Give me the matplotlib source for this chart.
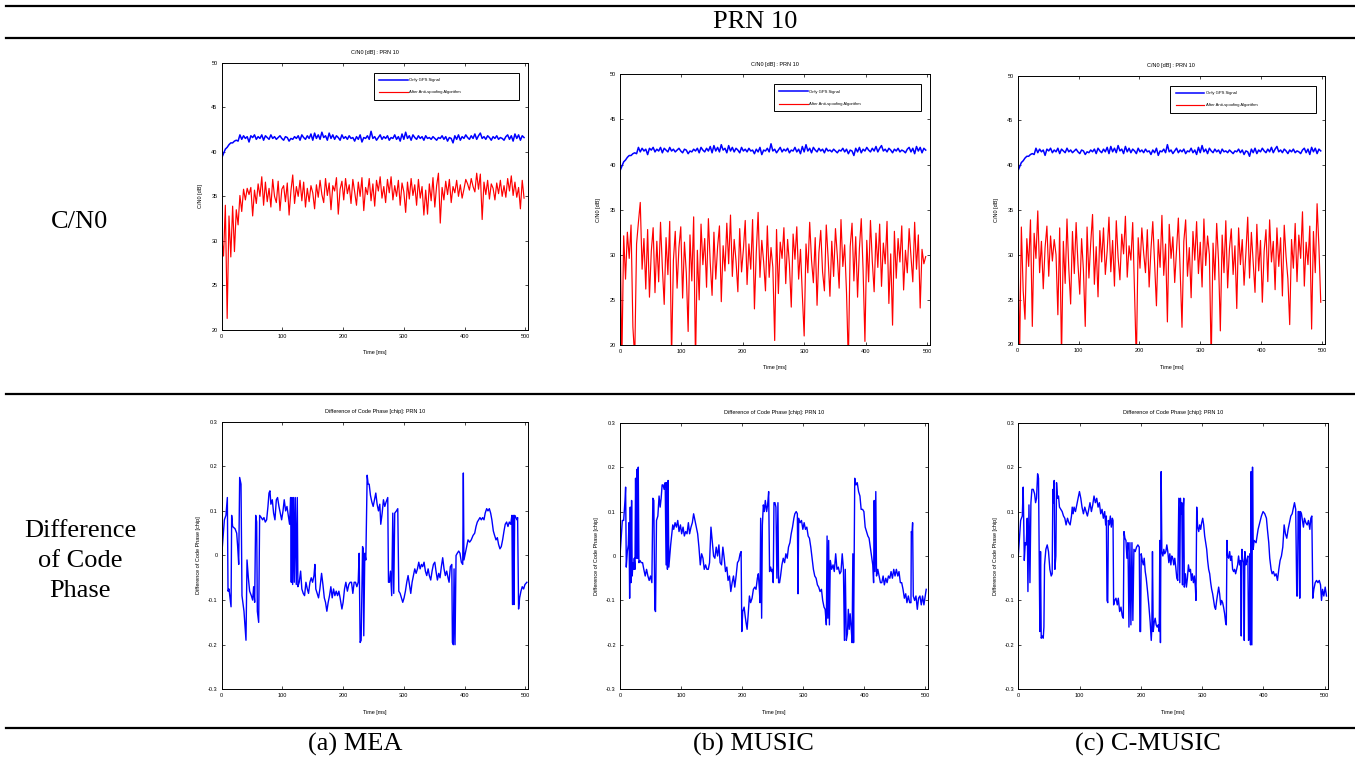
import numpy as np
import matplotlib
matplotlib.use("Agg")
import matplotlib.pyplot as plt
from matplotlib.lines import Line2D

plt.rcParams['axes.unicode_minus'] = False

# ---- data ----
methods = ["(a) MEA", "(b) MUSIC", "(c) C-MUSIC"]
row_labels = ["C/N0", "Difference\nof Code\nPhase"]
header = "PRN 10"
legend_labels = ["Only GPS Signal", "After Anti-spoofing Algorithm"]

time_step = 3  # ms between C/N0 samples

cn0_gps = [
    39.3, 39.8, 40.3, 40.5, 40.8, 41.0, 41.0, 41.2, 41.3, 41.2,
    41.9, 41.4, 41.8, 41.5, 41.7, 41.1, 41.8, 41.6, 41.9, 41.4,
    41.7, 41.5, 41.9, 41.3, 41.8, 41.6, 41.4, 41.9, 41.5, 41.7,
    41.4, 41.6, 41.8, 41.5, 41.3, 41.7, 41.6, 41.2, 41.5, 41.4,
    41.7, 41.5, 41.8, 41.3, 41.9, 41.6, 41.4, 41.8, 41.5, 42.0,
    41.3, 42.1, 41.5, 41.9, 41.4, 42.2, 41.6, 41.8, 41.3, 42.1,
    41.5, 41.9, 41.4, 41.8, 41.6, 41.3, 41.9, 41.5, 41.7, 41.4,
    41.8, 41.5, 41.6, 41.2, 41.7, 41.4, 41.9, 41.1, 41.6, 41.5,
    41.8, 41.4, 42.3, 41.5, 41.7, 41.3, 41.6, 41.9, 41.4, 41.7,
    41.5, 41.8, 41.3, 41.6, 41.5, 41.9, 41.4, 41.7, 41.2, 42.0,
    41.4, 42.2, 41.5, 41.8, 41.3, 41.9, 41.6, 41.4, 41.8, 41.5,
    41.7, 41.3, 41.8, 41.5, 41.6, 41.4, 41.7, 41.5, 41.3, 41.6,
    41.5, 41.8, 41.4, 41.7, 41.2, 41.6, 41.5, 41.0, 41.8, 41.4,
    41.9, 41.3, 41.7, 41.5, 41.9, 41.6, 41.4, 41.8, 41.5, 42.0,
    41.4, 41.8, 42.1, 41.5, 41.7, 41.4, 41.8, 41.6, 41.3, 41.7,
    41.5, 41.8, 41.4, 41.6, 41.5, 41.3, 41.7, 41.9, 41.4, 41.8,
    41.2, 42.0, 41.5, 41.9, 41.3, 41.8, 41.6,
]

cn0_mea = [
    30.5, 28.3, 34.0, 21.3, 32.8, 28.2, 33.9, 28.8, 33.5, 31.8,
    35.1, 33.3, 35.8, 34.6, 35.9, 35.2, 36.0, 32.8, 35.7, 34.2,
    36.4, 35.0, 37.2, 34.0, 36.6, 34.4, 35.9, 33.8, 36.9, 35.0,
    34.3, 36.7, 33.4, 35.8, 36.2, 34.4, 36.5, 32.9, 35.6, 37.4,
    34.2, 36.1, 35.0, 36.8, 34.5, 36.6, 33.8, 35.9, 34.4, 36.2,
    35.4, 33.6, 36.3, 34.9, 36.8, 35.2, 34.3, 37.0, 35.1, 36.5,
    33.5, 36.2, 35.6, 37.1, 33.0, 35.8, 36.7, 34.6, 37.0, 35.3,
    36.3, 34.2, 36.9, 35.5, 34.0, 36.6, 35.0, 37.1, 33.4, 36.0,
    35.2, 37.0, 34.5, 36.4, 33.9, 36.8, 35.6, 37.2, 34.8, 36.1,
    34.3, 36.9, 35.4, 37.2, 34.6, 36.2, 35.0, 36.8, 34.0, 36.5,
    35.5, 33.2, 36.6, 34.7, 37.0, 35.1, 36.3, 34.0, 36.9, 34.8,
    36.1, 32.9, 35.7, 33.0, 36.4, 34.5, 37.1, 33.8, 36.2, 37.6,
    32.0, 36.0, 34.6, 36.7, 35.2, 36.9, 34.3, 36.1, 35.4, 36.8,
    35.0, 36.3, 34.8, 35.8, 36.9, 36.4, 35.7, 37.0, 36.1, 35.5,
    37.6, 35.8, 37.5, 32.4, 36.6, 35.2, 36.8, 34.7, 36.4, 35.9,
    34.6, 36.5, 35.3, 36.8, 35.0, 36.2, 34.9, 37.0, 35.6, 37.3,
    35.1, 36.6, 34.9, 36.0, 33.6, 36.8, 34.8,
]

cn0_music = [
    33.7, 18.0, 32.1, 27.3, 32.5, 29.6, 33.3, 22.0, 18.5, 31.2,
    33.6, 35.8, 28.4, 31.8, 26.2, 32.8, 25.3, 30.4, 33.0, 25.8,
    31.5, 27.0, 33.6, 28.6, 24.5, 31.9, 27.8, 33.7, 18.5, 29.4,
    32.6, 26.3, 30.8, 33.1, 25.2, 31.4, 28.0, 21.5, 32.2, 27.1,
    34.2, 18.0, 30.5, 25.0, 33.4, 28.9, 31.8, 26.4, 34.0, 29.1,
    25.5, 32.5, 27.3, 30.9, 33.2, 24.8, 31.0, 28.2, 33.5, 29.0,
    34.4, 27.6, 31.7, 29.3, 25.9, 32.9, 28.1, 30.6, 33.8, 26.7,
    31.2, 28.4, 33.9, 24.0, 30.3, 34.7, 27.5, 31.6, 29.2, 26.0,
    33.2, 27.5, 30.8, 28.6, 20.5, 32.8, 25.7, 31.4, 29.6, 33.0,
    26.8, 31.7, 28.9, 24.2, 32.3, 29.5, 33.1, 27.3, 30.6, 25.6,
    21.0, 31.2, 28.0, 33.6, 29.4, 26.9, 31.9, 24.4, 30.2, 32.7,
    28.1, 26.0, 33.3, 29.7, 25.4, 31.5, 27.6, 32.9, 29.9, 26.3,
    33.9, 28.7, 31.1, 25.8, 18.0, 30.9, 33.5, 27.1, 32.0, 25.3,
    30.7, 34.0, 28.3, 20.4, 31.6, 27.0, 33.8, 29.3, 25.9, 32.4,
    28.6, 33.4, 26.5, 31.3, 29.0, 33.7, 24.6, 30.1, 22.2, 32.6,
    27.4, 31.8, 29.2, 33.2, 26.1, 30.5, 28.0, 32.9, 29.8, 27.0,
    33.6, 28.4, 32.2, 24.1, 30.6, 29.0, 29.8,
]

cn0_cmusic = [
    33.9, 18.0, 33.1, 26.0, 22.8, 31.8, 28.7, 33.9, 22.0, 32.4,
    29.6, 34.9, 28.0, 31.5, 26.2, 30.8, 33.2, 27.6, 32.1, 29.3,
    31.7, 30.0, 23.3, 33.0, 18.5, 31.5, 26.8, 34.0, 28.4, 24.5,
    32.6, 27.9, 33.6, 29.0, 25.6, 31.8, 28.3, 22.0, 33.1, 27.4,
    31.3, 34.5, 26.7, 30.9, 25.3, 32.7, 29.2, 33.0, 27.8, 30.4,
    34.2, 28.1, 31.6, 26.5, 33.8, 29.7, 27.2, 32.3, 30.1, 34.3,
    27.5, 31.0, 29.4, 33.6, 26.0, 18.0, 31.9, 28.5, 33.0, 30.2,
    28.0, 32.8, 26.4, 30.6, 33.7, 29.1, 24.3, 31.7, 28.6, 34.4,
    27.7, 31.2, 22.5, 33.4, 29.6, 32.0, 26.9, 30.5, 34.1, 28.2,
    21.9, 31.5, 33.9, 27.6, 30.8, 25.2, 32.6, 29.4, 33.7, 27.9,
    31.4, 26.4, 34.0, 28.8, 32.1, 30.0, 18.0, 31.3, 27.2, 33.5,
    29.4, 21.5, 32.2, 28.0, 33.8, 26.3, 30.7, 32.9, 27.8, 31.0,
    24.0, 33.0, 28.9, 31.7, 26.6, 30.2, 34.2, 27.4, 32.5, 29.1,
    25.8, 33.4, 28.2, 31.6, 24.7, 30.4, 32.8, 27.0, 33.9, 29.2,
    31.5, 26.1, 33.0, 28.7, 31.9, 25.4, 33.3, 29.8, 27.3, 22.2,
    31.7, 28.5, 33.5, 27.0, 32.2, 29.6, 34.8, 26.5, 31.4, 28.9,
    33.2, 21.7, 32.6, 28.0, 35.7, 30.9, 24.7,
]

# (time [ms], code phase difference [chip])
cp_mea = [
    (0, 0.0), (4.4, 0.08), (7, 0.09), (9.3, 0.13), (10.4, -0.08), (12, -0.075),
    (13.7, -0.095), (15.4, -0.115), (16.4, 0.09), (18, 0.065), (22, 0.06),
    (24.7, 0.05), (26.3, 0.02), (28, -0.02), (29.6, 0.175), (31.8, 0.16),
    (33.4, -0.09), (36.7, -0.125), (40, -0.19), (41.7, -0.01), (43.9, -0.05),
    (46, -0.08), (48.8, -0.09), (51, -0.1), (52.6, -0.07), (54.3, -0.105),
    (56, 0.09), (57.6, 0.075), (58.7, -0.125), (60.9, -0.15), (62.5, 0.09),
    (65.2, 0.085), (67.4, 0.08), (69.6, 0.085), (71.8, 0.075), (74, 0.08),
    (76.2, 0.11), (77.9, 0.14), (79.5, 0.145), (81, 0.115), (83.3, 0.125),
    (85.5, 0.095), (87.7, 0.08), (90, 0.125), (92, 0.13), (94.3, 0.11),
    (96.5, 0.095), (98.7, 0.08), (101, 0.1), (103, 0.125), (105.3, 0.1),
    (107.5, 0.11), (109.6, 0.09), (111.8, 0.07), (113.5, 0.13), (114.6, -0.06),
    (115.7, 0.13), (116.8, -0.065), (118.4, 0.13), (119.5, -0.06), (121.2, 0.13),
    (122.8, -0.065), (124.5, 0.13), (125.5, -0.07), (127.7, -0.06), (130, -0.035),
    (132, -0.075), (134.3, -0.085), (136.5, -0.09), (138.7, -0.06), (141, -0.075),
    (143, -0.085), (145.3, -0.06), (147.5, -0.05), (149.7, -0.06), (152, -0.045),
    (153.5, -0.02), (155, -0.075), (157.3, -0.085), (159.5, -0.095), (161.7, -0.075),
    (164.5, -0.04), (166.7, -0.065), (169, -0.095), (171, -0.105), (173.2, -0.125),
    (175.4, -0.105), (177.6, -0.09), (179.8, -0.07), (182, -0.095), (184.2, -0.075),
    (186.4, -0.09), (188.6, -0.08), (190.8, -0.09), (193, -0.08), (195, -0.095),
    (198, -0.12), (200, -0.105), (202.3, -0.075), (204.5, -0.06), (207, -0.08),
    (209.4, -0.065), (211.6, -0.06), (213.8, -0.06), (216, -0.085), (218.2, -0.06),
    (220.4, -0.06), (222.6, -0.07), (224.8, -0.06), (226.4, 0.005), (228, -0.195),
    (229.7, -0.19), (232, 0.02), (233, 0.015), (234, -0.18), (235.7, 0.005),
    (237.4, -0.01), (239.6, 0.18), (241.2, 0.16), (242.9, 0.16), (245, 0.135),
    (247.3, 0.12), (249.5, 0.11), (251.6, 0.125), (253.8, 0.14), (256, 0.115),
    (258.2, 0.1), (260.4, 0.115), (262, 0.07), (264.3, 0.095), (266.4, 0.125),
    (268.6, 0.11), (270.8, 0.12), (273.5, 0.13), (274.7, -0.06), (276.3, -0.06),
    (278, -0.035), (280, -0.09), (281.8, 0.095), (283.4, -0.085), (285, 0.095),
    (287.8, 0.1), (290, 0.105), (291.7, -0.08), (293.9, -0.085), (296, -0.095),
    (298.2, -0.105), (300.4, -0.095), (302.6, -0.08), (304.8, -0.06), (307, -0.045),
    (309.2, -0.065), (311.4, -0.085), (313.6, -0.06), (315.8, -0.045), (318, -0.03),
    (320.2, -0.04), (322.4, -0.03), (324.6, -0.015), (326.8, -0.03), (329, -0.02),
    (331, -0.025), (333.3, -0.015), (335.5, -0.035), (337.7, -0.045), (340, -0.03),
    (342, -0.045), (344.3, -0.055), (346.5, -0.035), (348.7, -0.02), (351, -0.015),
    (353, -0.035), (355.3, -0.055), (357.5, -0.04), (359.6, -0.05), (361.8, -0.025),
    (364, -0.005), (366.2, -0.03), (368.4, -0.045), (370.6, -0.035), (372.8, -0.05),
    (374.5, -0.06), (376.6, -0.025), (379, -0.02), (380, -0.195), (381.6, -0.2),
    (382.7, -0.03), (384.3, -0.2), (386, 0.0), (388, 0.005), (390.4, 0.01),
    (392.5, 0.005), (394.7, -0.015), (397, -0.02), (398, 0.185), (399, -0.01),
    (401.3, 0.005), (403.5, 0.02), (405.7, 0.035), (408.4, 0.03), (411, 0.035),
    (414, 0.045), (416.7, 0.05), (418.9, 0.065), (421, 0.075), (423.2, 0.08),
    (425.4, 0.085), (427.6, 0.08), (429.8, 0.085), (432, 0.08), (434, 0.095),
    (436.4, 0.105), (438.6, 0.1), (440.8, 0.105), (443, 0.095), (445, 0.08),
    (447.4, 0.055), (449.5, 0.045), (451.8, 0.035), (454, 0.04), (456, 0.025),
    (458.3, 0.015), (460.5, 0.02), (462.7, 0.035), (465, 0.055), (467, 0.07),
    (469.3, 0.075), (471.5, 0.065), (473.7, 0.075), (476, 0.07), (478, 0.09),
    (479, -0.11), (480.3, 0.09), (481.4, -0.11), (482.5, 0.09), (484.6, 0.085),
    (486.3, 0.08), (487.4, 0.085), (489, -0.12), (490.7, -0.095), (492.9, -0.08),
    (495, -0.07), (497.3, -0.075), (499.5, -0.065), (502.7, -0.06),
]

cp_music = [
    (0, 0.0), (3.8, 0.08), (6, 0.08), (8.2, 0.125), (9.2, 0.155), (10.3, -0.025),
    (12, 0.01), (13.6, 0.025), (14.7, 0.075), (15.8, -0.095), (16.8, 0.11),
    (18, -0.06), (19, 0.125), (20, -0.045), (21.2, -0.015), (22.3, -0.03),
    (23.4, -0.005), (24.5, -0.03), (25.5, 0.175), (26.6, -0.005), (27.7, 0.195),
    (28.8, -0.005), (29.9, 0.2), (31, -0.015), (32.6, -0.01), (34.8, -0.015),
    (37, -0.015), (39, -0.03), (41.3, -0.045), (43.5, -0.03), (45.7, -0.045),
    (47.8, -0.055), (50, -0.045), (52.2, -0.06), (53.8, 0.13), (55.4, 0.125),
    (57, -0.12), (58.2, -0.125), (59.8, 0.08), (62, 0.09), (64, 0.135),
    (65.8, 0.11), (67.4, 0.13), (69, 0.16), (70.6, 0.16), (72.3, 0.15),
    (74, 0.165), (75.5, -0.02), (76.6, 0.165), (77.7, -0.03), (78.8, 0.17),
    (80, -0.025), (81.5, 0.0), (83, 0.025), (84.8, 0.05), (86.4, 0.07),
    (88, 0.06), (90.2, 0.075), (92.4, 0.065), (94.6, 0.08), (96.7, 0.055),
    (99, 0.07), (101, 0.05), (103.3, 0.065), (105.4, 0.045), (107.6, 0.055),
    (109.8, 0.05), (112, 0.075), (114, 0.05), (116.3, 0.065), (118.5, 0.075),
    (120.6, 0.095), (122.8, 0.08), (125, 0.065), (127.2, 0.05), (129.3, 0.02),
    (131.5, -0.02), (133.7, 0.005), (135.9, -0.005), (138, -0.03), (140.2, -0.02),
    (142.4, -0.03), (144.6, -0.03), (146.7, -0.015), (149, 0.065), (151, 0.035),
    (153.3, 0.0), (155.4, -0.005), (157.6, 0.02), (159.8, 0.0), (162, 0.025),
    (164, -0.015), (166.3, -0.02), (168.5, 0.02), (170.7, -0.005), (172.8, -0.035),
    (175, -0.025), (177, -0.055), (179.3, -0.045), (181.5, -0.08), (183.7, -0.06),
    (185.9, -0.045), (188, -0.07), (190.2, -0.045), (192.4, -0.015), (194.6, -0.01),
    (196.7, 0.005), (198.4, 0.01), (199.5, -0.17), (201, -0.125), (203.3, -0.115),
    (205, -0.135), (206.5, -0.15), (208.2, -0.165), (209.8, -0.135), (212, -0.09),
    (214, -0.105), (216.3, -0.095), (218.5, -0.075), (220.7, -0.07), (222.8, -0.075),
    (225, -0.05), (226.6, -0.04), (228.3, -0.075), (229.3, -0.105), (230.4, 0.085),
    (232, -0.14), (233.2, 0.07), (234.8, 0.115), (236.4, 0.1), (238, 0.125),
    (240.2, 0.1), (241.8, 0.115), (243.5, 0.145), (245, -0.035), (246.7, -0.025),
    (248.4, -0.035), (249.5, -0.03), (251, -0.06), (252.2, 0.12), (253.8, 0.12),
    (255.4, 0.11), (257, -0.05), (258.7, 0.12), (259.8, -0.06), (261.4, -0.06),
    (263, -0.045), (265.2, -0.02), (267.4, -0.005), (269.6, -0.015), (271.7, 0.005),
    (273.9, -0.005), (276, 0.02), (278.3, 0.03), (280.4, 0.05), (282.6, 0.065),
    (284.8, 0.085), (286.4, 0.095), (288.6, 0.1), (290.5, 0.095), (291.6, -0.085),
    (292.7, 0.085), (295, 0.075), (297.3, 0.08), (299.5, 0.06), (301.6, 0.075),
    (303.8, 0.06), (306, 0.065), (308.2, 0.045), (310.3, 0.04), (312.5, 0.02),
    (314.7, -0.005), (316.8, -0.03), (319, -0.045), (321.2, -0.05), (323.4, -0.065),
    (325.5, -0.07), (327.7, -0.08), (330, -0.075), (332, -0.1), (334.2, -0.115),
    (336, -0.12), (338, -0.155), (339.2, 0.045), (340.5, -0.14), (341.8, 0.035),
    (343, -0.155), (344.5, -0.01), (346.7, -0.03), (349, -0.02), (351, -0.035),
    (353.3, 0.005), (355.4, -0.03), (357.6, -0.025), (360, -0.04), (362, -0.035),
    (364, 0.005), (366, -0.03), (367.6, -0.19), (369, -0.03), (370.7, -0.19),
    (372.5, -0.175), (374, -0.12), (375.5, -0.165), (377, -0.13), (378.6, -0.16),
    (380.2, -0.195), (381.4, 0.005), (382.6, -0.195), (384.5, 0.175), (386.5, 0.16),
    (388.6, 0.165), (390.8, 0.145), (393, 0.135), (395, 0.105), (397.3, 0.105),
    (399.5, 0.1), (401.6, 0.065), (403.8, 0.055), (406, 0.045), (408, 0.04),
    (410, 0.02), (412, 0.0), (414, -0.02), (415.4, -0.06), (416.4, 0.125),
    (417.6, -0.035), (419, 0.145), (420.2, -0.045), (422.3, -0.03), (424.5, -0.045),
    (426.6, -0.06), (428.8, -0.06), (431, -0.045), (433, -0.065), (435.3, -0.05),
    (437.5, -0.06), (439.7, -0.045), (442, -0.05), (444, -0.035), (446.2, -0.05),
    (448.4, -0.03), (450.5, -0.045), (452.7, -0.03), (455, -0.045), (457, -0.035),
    (459.2, -0.06), (461.4, -0.06), (463.6, -0.075), (465.8, -0.095), (468, -0.085),
    (470, -0.105), (472.3, -0.09), (474.5, -0.105), (476.6, -0.105), (477.2, 0.055),
    (478.3, 0.05), (479.3, 0.075), (480.4, -0.09), (482.6, -0.1), (484.8, -0.09),
    (487, -0.12), (489, -0.095), (491.3, -0.09), (493.5, -0.11), (495.6, -0.09),
    (497.8, -0.11), (500, -0.09), (501.6, -0.075),
]

cp_cmusic = [
    (0, 0.0), (3.8, 0.08), (6.5, 0.09), (8, 0.155), (9.8, -0.01), (11.4, 0.03),
    (13, 0.025), (14.6, 0.085), (15.7, -0.08), (17.4, 0.115), (19, -0.06),
    (20.6, 0.12), (22.2, 0.15), (24.4, 0.15), (26.6, 0.14), (28.2, 0.12),
    (29.8, 0.13), (31.5, 0.185), (33, 0.175), (34.2, -0.005), (35.2, -0.17),
    (36.3, 0.01), (37.4, -0.185), (39, -0.18), (40.7, -0.185), (41.8, -0.16),
    (42.8, -0.02), (45, 0.015), (47.2, 0.025), (49.3, 0.01), (51.5, -0.03),
    (53.7, -0.045), (55.3, -0.04), (56.4, 0.15), (57.5, 0.12), (58.6, 0.17),
    (59.7, -0.03), (61.3, 0.0), (62.4, 0.165), (64, 0.13), (65.6, 0.135),
    (67.2, 0.11), (69.4, 0.105), (71.6, 0.1), (73.8, 0.09), (75.9, 0.085),
    (78, 0.07), (80.3, 0.085), (82.5, 0.075), (84.6, 0.07), (86.8, 0.09),
    (88, 0.11), (89.5, 0.095), (91, 0.11), (93.3, 0.1), (95.4, 0.115),
    (97.6, 0.13), (99.8, 0.145), (102, 0.13), (104, 0.11), (106.3, 0.095),
    (108.5, 0.11), (110.6, 0.1), (112.8, 0.09), (115, 0.105), (117, 0.12),
    (119.3, 0.1), (121.5, 0.115), (123.6, 0.135), (125.8, 0.12), (128, 0.13),
    (130.2, 0.11), (132.3, 0.12), (134.5, 0.095), (136.7, 0.105), (138.8, 0.085),
    (141, 0.1), (142.6, 0.07), (143.7, 0.09), (144.8, -0.1), (146, -0.105),
    (147, 0.08), (148.6, 0.07), (150.2, 0.09), (151.8, 0.065), (153.5, 0.085),
    (154.6, 0.08), (155.6, -0.11), (157.3, -0.1), (159.4, -0.095), (161.6, -0.11),
    (163.2, -0.095), (165.4, -0.125), (167.6, -0.115), (169.7, -0.135), (171.4, -0.14),
    (172.5, 0.055), (174, 0.04), (175.7, 0.035), (177.3, -0.005), (179, 0.03),
    (180.6, -0.16), (182.2, 0.03), (183.8, -0.155), (185.5, 0.03), (187, -0.145),
    (188.7, 0.015), (190.9, 0.01), (193, 0.02), (195.2, 0.025), (197.4, 0.02),
    (198.5, -0.17), (199.6, -0.17), (200.6, 0.005), (202.3, -0.01), (204, -0.02),
    (205.5, -0.005), (207.2, -0.035), (208.8, -0.05), (211, -0.08), (213, -0.11),
    (215.3, -0.15), (217, -0.19), (218, -0.16), (219, 0.01), (220.2, -0.17),
    (221.8, -0.15), (223.4, -0.14), (225, -0.155), (226.7, -0.16), (228.3, -0.155),
    (230, -0.17), (231, 0.035), (232, -0.195), (233.2, 0.19), (234.3, 0.01),
    (236, 0.0), (237.5, 0.015), (239, 0.005), (240.8, 0.01), (242.4, 0.025),
    (244, 0.01), (245.7, -0.015), (247.3, 0.005), (249, -0.02), (250.5, 0.0),
    (252.2, -0.005), (253.8, -0.02), (255.4, -0.005), (257, -0.025), (258.7, -0.05),
    (260.3, -0.055), (262, 0.13), (263.6, -0.06), (264.6, 0.13), (265.7, 0.095),
    (266.8, 0.12), (268, -0.065), (269, 0.1), (270, 0.13), (271, -0.07),
    (272.8, -0.04), (274.4, -0.07), (276, -0.05), (277.7, -0.02), (279.3, -0.035),
    (281, -0.03), (282.5, -0.055), (284, -0.04), (285.8, -0.06), (287.4, -0.045),
    (289, -0.07), (290, -0.1), (291.2, 0.11), (292.8, 0.065), (294.5, 0.055),
    (296, 0.07), (297.7, 0.06), (299.3, 0.075), (301, 0.085), (302.6, 0.07),
    (304.2, 0.045), (305.9, 0.03), (307.5, 0.015), (309, -0.01), (310.7, -0.03),
    (312.4, -0.04), (314, -0.06), (315.6, -0.075), (317.2, -0.085), (318.9, -0.1),
    (320.5, -0.115), (322, -0.12), (323.8, -0.1), (325.4, -0.085), (327, -0.07),
    (328.6, -0.085), (330.3, -0.11), (331.9, -0.1), (333.5, -0.105), (335, -0.115),
    (336.8, -0.13), (338.4, -0.15), (339.5, -0.155), (340.6, 0.035), (341.6, 0.0),
    (343.3, -0.005), (345, 0.01), (346.5, -0.01), (348.2, 0.0), (349.8, -0.03),
    (351.4, -0.035), (353, -0.03), (354.7, -0.04), (356.3, -0.03), (358, -0.02),
    (359.5, 0.0), (361.2, -0.02), (362.8, -0.01), (363.9, -0.18), (365, 0.015),
    (366, -0.005), (367.7, -0.015), (368.8, -0.19), (369.8, 0.01), (371.5, -0.02),
    (373, -0.01), (374.7, 0.0), (375.8, -0.19), (376.9, -0.18), (378, 0.005),
    (379, -0.2), (380, 0.19), (381.2, -0.2), (382.3, 0.2), (383.4, 0.015),
    (384.9, 0.035), (388.1, 0.03), (391.4, 0.06), (394.1, 0.075), (396.8, 0.09),
    (399.5, 0.1), (402.3, 0.095), (405, 0.085), (406.6, 0.06), (408.8, 0.03),
    (410.4, -0.005), (412.6, -0.03), (414.3, -0.04), (416.4, -0.035), (418.6, -0.045),
    (420.8, -0.04), (423, -0.055), (425.2, -0.03), (427.3, -0.01), (429.5, 0.0),
    (431.7, 0.02), (433.9, 0.07), (436, 0.05), (438.2, 0.04), (440.4, 0.06),
    (442.6, 0.075), (444.8, 0.09), (447, 0.095), (449.2, 0.11), (450.8, 0.12),
    (452.8, 0.105), (454.5, -0.09), (455.6, -0.09), (456.7, 0.1), (458.3, 0.1),
    (459.4, -0.095), (460.5, 0.1), (462.2, 0.095), (463.8, 0.08), (465.4, 0.065),
    (467.1, 0.085), (469.3, 0.075), (471.5, 0.07), (473.6, 0.08), (475.8, 0.06),
    (477.5, 0.085), (479.1, 0.09), (480.7, -0.095), (482.4, -0.075), (484.6, -0.06),
    (486.8, -0.055), (489, -0.06), (491.2, -0.055), (493.3, -0.065), (494.9, -0.1),
    (496.6, -0.075), (498.7, -0.09), (500.9, -0.07), (503, -0.09),
]

cn0_ticks = [20, 25, 30, 35, 40, 45, 50]
cp_ticks = [-0.3, -0.2, -0.1, 0, 0.1, 0.2, 0.3]
cp_ticklabels = ["-0.3", "-0.2", "-0.1", "0", "0.1", "0.2", "0.3"]
time_ticks = [0, 100, 200, 300, 400, 500]

# ---- figure ----
W, H = 1355, 759
fig = plt.figure(figsize=(W / 100, H / 100), dpi=100)

def px_axes(left, top, right, bottom):
    return fig.add_axes([left / W, 1 - bottom / H, (right - left) / W, (bottom - top) / H])

small = dict(family=["Liberation Sans", "DejaVu Sans"], fontsize=4.0)
serif = dict(family=["Liberation Serif", "DejaVu Serif"], fontsize=19)

def style_axes(ax):
    ax.set_xlim(0, 505)
    ax.set_xticks(time_ticks)
    ax.tick_params(direction="in", top=True, right=True, length=2.2, width=0.5,
                   labelsize=4.0, pad=3)
    for lab in ax.get_xticklabels() + ax.get_yticklabels():
        lab.set_family(["Liberation Sans", "DejaVu Sans"])
    for s in ax.spines.values():
        s.set_linewidth(0.7)
    ax.set_xlabel("Time [ms]", labelpad=8, **small)

cn0_boxes = [(221.7, 62.7, 528.3, 330), (620, 74.3, 930, 345), (1017.7, 75.7, 1325, 344.3)]
cp_boxes = [(221.7, 421.7, 528.3, 689.3), (620, 422.7, 928.3, 689.3), (1018.3, 422.7, 1327.7, 689.3)]
red_series = [cn0_mea, cn0_music, cn0_cmusic]
cp_series = [cp_mea, cp_music, cp_cmusic]

t_gps = np.arange(len(cn0_gps)) * time_step
for box, red in zip(cn0_boxes, red_series):
    ax = px_axes(*box)
    t_red = np.arange(len(red)) * time_step
    ax.plot(t_gps, cn0_gps, color="#0000ff", lw=1.1, label=legend_labels[0])
    ax.plot(t_red, red, color="#ff0000", lw=0.85, label=legend_labels[1])
    ax.set_ylim(20, 50)
    ax.set_yticks(cn0_ticks)
    style_axes(ax)
    ax.set_ylabel("C/N0 [dB]", labelpad=6, **small)
    ax.set_title("C/N0 [dB] : PRN 10", pad=6, **small)
    leg = ax.legend(loc="upper left", bbox_to_anchor=(0.497, 0.858, 0.473, 0.105),
                    mode="expand", borderaxespad=0, prop={"family": "Liberation Sans", "size": 3},
                    handlelength=6.8, handletextpad=0.4, labelspacing=2.0, borderpad=1.3,
                    fancybox=False, edgecolor="black", framealpha=1)
    leg.get_frame().set_linewidth(0.7)

for box, series in zip(cp_boxes, cp_series):
    ax = px_axes(*box)
    t, v = zip(*series)
    ax.plot(t, v, color="#0000ff", lw=1.0)
    ax.set_ylim(-0.3, 0.3)
    ax.set_yticks(cp_ticks)
    ax.set_yticklabels(cp_ticklabels)
    style_axes(ax)
    ax.set_ylabel("Difference of Code Phase [chip]", labelpad=5, **small)
    ax.set_title("Difference of Code Phase [chip]: PRN 10", pad=6, **small)

# ---- table frame and labels ----
for y in [6, 38, 394, 728]:
    fig.add_artist(Line2D([6 / W, 1], [1 - y / H, 1 - y / H], color="black", lw=1.6))

fig.text(755 / W, 1 - 22 / H, header, ha="center", va="center", **serif)
fig.text(80 / W, 1 - 222 / H, row_labels[0], ha="center", va="center", **serif)
fig.text(80 / W, 1 - 561 / H, row_labels[1], ha="center", va="center",
         multialignment="center", linespacing=1.45, **serif)
for x, name in zip([355, 753, 1148], methods):
    fig.text(x / W, 1 - 744 / H, name, ha="center", va="center", **serif)

fig.savefig("out.png", dpi=100)
